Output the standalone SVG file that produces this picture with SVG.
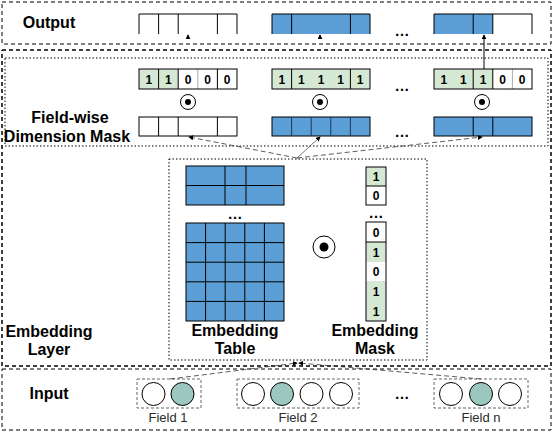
<svg xmlns="http://www.w3.org/2000/svg" width="554" height="432" viewBox="0 0 554 432">
<defs>
<style>
.lbl{font-family:"Liberation Sans",Arial,sans-serif;font-weight:bold;font-size:16px;fill:#000;text-anchor:middle}
.dig{font-family:"Liberation Sans",Arial,sans-serif;font-weight:bold;font-size:12px;fill:#000;text-anchor:middle}
.fld{font-family:"Liberation Sans",Arial,sans-serif;font-size:13px;fill:#2a2a2a;text-anchor:middle}
.dots{font-family:"Liberation Sans",Arial,sans-serif;font-weight:bold;font-size:15px;fill:#000;text-anchor:middle}
.dash{fill:none;stroke:#000;stroke-width:1;stroke-dasharray:4 3}
.dot{fill:none;stroke:#000;stroke-width:1;stroke-dasharray:1.5 2}
.blue{fill:#5b9fd6}
.grn{fill:#d5e8d4}
.ln{stroke:#000;stroke-width:1;fill:none}
.gl{stroke:#aaa;stroke-width:1;fill:none}
.gln{stroke:#1a3a5a;stroke-width:1;fill:none}
.circ{fill:#fff;stroke:#000;stroke-width:1}
.circg{fill:#9cc7bf;stroke:#000;stroke-width:1}
.fbox{fill:none;stroke:#666;stroke-width:1;stroke-dasharray:3 2}
.con{fill:none;stroke:#333;stroke-width:0.8;stroke-dasharray:5 3}
.cons{fill:none;stroke:#555;stroke-width:0.8}
</style>
<marker id="ah" viewBox="0 0 6 6" refX="5" refY="3" markerWidth="5" markerHeight="5" orient="auto" markerUnits="userSpaceOnUse">
<path d="M0,0 L6,3 L0,6 z" fill="#000"/>
</marker>
</defs>

<!-- Embedding layer background -->
<g id="embedding-layer">
<rect x="2" y="50" width="549" height="316" fill="#f0f8fc" class="dash"/>
<rect x="2" y="50" width="549" height="316" class="dash"/>
<text class="lbl" x="49" y="337">Embedding</text>
<text class="lbl" x="49" y="355">Layer</text>
</g>

<!-- Output box -->
<g id="output">
<rect x="2" y="2" width="549" height="42" fill="#fff" class="dash"/>
<text class="lbl" x="49" y="28">Output</text>
<rect x="272" y="14" width="98" height="20" class="blue"/>
<rect x="434" y="14" width="58.8" height="20" class="blue"/>
<path class="ln" d="M139,34 V14 H237 V34 M158.6,14 V34 M178.2,14 V34 M217.4,14 V34"/>
<path class="ln" d="M272,34 V14 H370 V34 M291.6,14 V34 M350.4,14 V34"/>
<path class="ln" d="M434,34 V14 H532 V34 M473.2,14 V34 M492.8,14 V34"/>
<text class="dots" x="402" y="36">…</text>
</g>

<!-- Field-wise dimension mask -->
<g id="fieldwise-mask">
<rect x="5" y="58" width="543" height="88" class="dot"/>
<text class="lbl" x="70" y="123">Field-wise</text>
<text class="lbl" x="67" y="142">Dimension Mask</text>
<rect x="139" y="69" width="39.2" height="20" class="grn"/>
<rect x="272" y="69" width="98" height="20" class="grn"/>
<rect x="434" y="69" width="58.8" height="20" class="grn"/>
<path class="gl" d="M197.8,69 V89 M512.4,69 V89"/>
<rect x="139" y="69" width="98" height="20" class="ln"/>
<path class="ln" d="M158.6,69 V89 M178.2,69 V89 M217.4,69 V89"/>
<rect x="272" y="69" width="98" height="20" class="ln"/>
<path class="ln" d="M291.6,69 V89 M350.4,69 V89"/>
<rect x="434" y="69" width="98" height="20" class="ln"/>
<path class="ln" d="M473.2,69 V89 M492.8,69 V89"/>
<g class="dig">
<text x="148.8" y="83.5">1</text><text x="168.4" y="83.5">1</text><text x="188" y="83.5">0</text><text x="207.6" y="83.5">0</text><text x="227.2" y="83.5">0</text>
<text x="281.8" y="83.5">1</text><text x="301.4" y="83.5">1</text><text x="321" y="83.5">1</text><text x="340.6" y="83.5">1</text><text x="360.2" y="83.5">1</text>
<text x="443.8" y="83.5">1</text><text x="463.4" y="83.5">1</text><text x="483" y="83.5">1</text><text x="502.6" y="83.5">0</text><text x="522.2" y="83.5">0</text>
</g>
<text class="dots" x="402" y="91">…</text>
<circle cx="188" cy="102" r="7.5" class="circ"/><circle cx="188" cy="102" r="3" fill="#000"/>
<circle cx="320" cy="102" r="7.5" class="circ"/><circle cx="320" cy="102" r="3" fill="#000"/>
<circle cx="482" cy="102" r="7.5" class="circ"/><circle cx="482" cy="102" r="3" fill="#000"/>
<rect x="139" y="117" width="98" height="19" fill="#fff" class="ln"/>
<path class="ln" d="M158.6,117 V136 M178.2,117 V136 M217.4,117 V136"/>
<rect x="272" y="117" width="98" height="19" class="blue"/>
<rect x="272" y="117" width="98" height="19" class="ln"/>
<path class="gln" d="M291.6,117 V136 M311.2,117 V136 M330.8,117 V136 M350.4,117 V136"/>
<rect x="434" y="117" width="98" height="19" class="blue"/>
<rect x="434" y="117" width="98" height="19" class="ln"/>
<path class="ln" d="M473.2,117 V136 M492.8,117 V136"/>
<text class="dots" x="402" y="137">…</text>
</g>

<!-- Embedding table -->
<g id="embedding-table">
<rect x="169" y="159" width="258" height="201" class="dot"/>
<rect x="186" y="166" width="98" height="39" class="blue"/>
<rect x="186" y="166" width="98" height="39" class="ln"/>
<path class="ln" d="M186,185.5 H284 M225,166 V205 M246,166 V205"/>
<text class="dots" x="235" y="219">…</text>
<rect x="186" y="223" width="98" height="98" class="blue"/>
<rect x="186" y="223" width="98" height="98" class="ln"/>
<path class="ln" d="M205.6,223 V321 M225.2,223 V321 M244.8,223 V321 M264.4,223 V321 M186,242.6 H284 M186,262.2 H284 M186,281.8 H284 M186,301.4 H284"/>
<text class="lbl" x="235" y="336">Embedding</text>
<text class="lbl" x="235" y="354">Table</text>
</g>

<g id="odot-main">
<circle cx="324" cy="247" r="11" class="circ"/><circle cx="324" cy="247" r="4.5" fill="#000"/>
</g>

<g id="embedding-mask">
<rect x="366" y="167" width="20" height="19" class="grn"/>
<rect x="366" y="186" width="20" height="19" fill="#fff"/>
<rect x="366" y="167" width="20" height="38" class="ln"/>
<path class="ln" d="M366,186 H386"/>
<text class="dots" x="376" y="218">…</text>
<rect x="366" y="222" width="20" height="20" fill="#fff"/>
<rect x="366" y="242" width="20" height="20" class="grn"/>
<rect x="366" y="262" width="20" height="19" fill="#fff"/>
<rect x="366" y="281" width="20" height="40" class="grn"/>
<rect x="366" y="222" width="20" height="99" class="ln"/>
<path class="ln" d="M366,242 H386"/>
<g class="dig">
<text x="376" y="181">1</text><text x="376" y="200">0</text>
<text x="376" y="236.5">0</text><text x="376" y="256.5">1</text><text x="376" y="276">0</text><text x="376" y="295.5">1</text><text x="376" y="315.5">1</text>
</g>
<text class="lbl" x="375" y="336">Embedding</text>
<text class="lbl" x="375" y="354">Mask</text>
</g>

<!-- Input -->
<g id="input">
<rect x="2" y="369" width="549" height="61" fill="#fff" class="dash"/>
<text class="lbl" x="49" y="399">Input</text>
<text class="dots" x="402" y="399">…</text>
</g>
<g id="field-1">
<rect x="137" y="379" width="64" height="29" class="fbox"/>
<circle cx="153.5" cy="394" r="11.5" class="circ"/>
<circle cx="182.5" cy="394" r="11.5" class="circg"/>
<text class="fld" x="168" y="422">Field 1</text>
</g>
<g id="field-2">
<rect x="237" y="379" width="122" height="29" class="fbox"/>
<circle cx="253" cy="394" r="11.5" class="circ"/>
<circle cx="282" cy="394" r="11.5" class="circg"/>
<circle cx="311.5" cy="394" r="11.5" class="circ"/>
<circle cx="341" cy="394" r="11.5" class="circ"/>
<text class="fld" x="298" y="422">Field 2</text>
</g>
<g id="field-n">
<rect x="434" y="379" width="94" height="29" class="fbox"/>
<circle cx="451" cy="394" r="11.5" class="circ"/>
<circle cx="481" cy="394" r="11.5" class="circg"/>
<circle cx="510" cy="394" r="11.5" class="circ"/>
<text class="fld" x="481" y="422">Field n</text>
</g>

<!-- Connectors -->
<g id="connectors">
<path class="con" d="M297,158 L189,137" marker-end="url(#ah)"/>
<path class="cons" d="M297,158 L320,137" marker-end="url(#ah)"/>
<path class="con" d="M297,158 L482,137" marker-end="url(#ah)"/>
<path class="con" d="M170,379 L297,363" marker-end="url(#ah)"/>
<path class="con" d="M481,379 L299,363" marker-end="url(#ah)"/>
<path class="ln" d="M484,69 L484,35" marker-end="url(#ah)"/>
<path class="ln" d="M188,39 L188,35" marker-end="url(#ah)"/>
<path class="ln" d="M320,39 L320,35" marker-end="url(#ah)"/>
</g>
</svg>
